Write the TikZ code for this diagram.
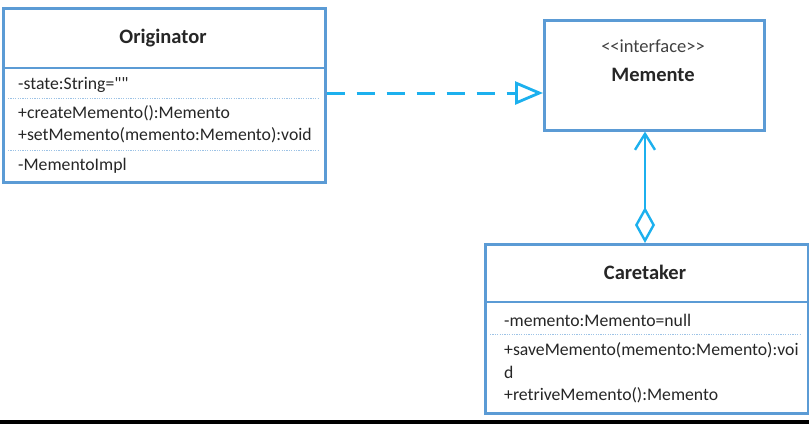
\documentclass[tikz,border=0pt]{standalone}
\usepackage{fontspec}
\setmainfont{Carlito}[Ligatures=TeXOff]
\usetikzlibrary{arrows.meta}
\definecolor{boxblue}{HTML}{5B9BD5}
\definecolor{linkblue}{HTML}{1CB0EE}
\definecolor{dotblue}{HTML}{9DC3E6}
\tikzset{
  x=1pt, y=-1pt,
  classbox/.style={draw=boxblue, line width=2.6pt, fill=white},
  divider/.style={draw=boxblue, line width=2.2pt},
  dotdiv/.style={draw=dotblue, line width=1pt, dash pattern=on 1.2pt off 1.2pt},
  member/.style={anchor=west, inner sep=0pt, font=\fontsize{17.7}{20}\selectfont, text=black!85},
  title/.style={inner sep=0pt, font=\bfseries\fontsize{20.5}{24}\selectfont, text=black!85},
  stereo/.style={inner sep=0pt, font=\fontsize{18.5}{21}\selectfont, text=black!75},
  link/.style={draw=linkblue, line width=2.8pt},
}
\begin{document}
\begin{tikzpicture}
\useasboundingbox (0,0) rectangle (809,424);
\fill[white] (0,0) rectangle (809,424);
\fill[black] (0,420) rectangle (809,424);

% Originator
\node[classbox, minimum width=322pt, minimum height=174pt, anchor=north west] (orig) at (2,7) {};
\draw[divider] (2,68) -- (324,68);
\draw[dotdiv] (8,98) -- (318,98);
\draw[dotdiv] (8,150) -- (318,150);
\node[title] (origT) at (163,38) {Originator};
\node[member] (o1) at (18,85) {-state:String=""};
\node[member] (o2) at (18,113) {+createMemento():Memento};
\node[member] (o3) at (18,135) {+setMemento(memento:Memento):void};
\node[member] (o4) at (18,166) {-MementoImpl};

% Memente
\node[classbox, minimum width=220pt, minimum height=110pt, anchor=north west] (mem) at (543,19) {};
\node[stereo] (memS) at (653,46) {<<interface>>};
\node[title] (memT) at (653,75) {Memente};

% Caretaker
\node[classbox, minimum width=323pt, minimum height=169pt, anchor=north west] (care) at (484,243) {};
\draw[divider] (484,302) -- (807,302);
\draw[dotdiv] (490,334) -- (801,334);
\node[title] (careT) at (645,272) {Caretaker};
\node[member] (c1) at (504,320) {-memento:Memento=null};
\node[member] (c2) at (504,350) {+saveMemento(memento:Memento):voi};
\node[member] (c3) at (504,372) {d};
\node[member] (c4) at (504,395) {+retriveMemento():Memento};

% connectors
\coordinate (dashA) at (orig.east |- 0,93);
\coordinate (dashB) at (mem.west |- 0,93);
\draw[link, line width=3pt, dash pattern=on 18pt off 12pt, -{Triangle[open, length=28pt, width=23pt, line width=2.8pt]}] (dashA) -- (dashB);
\coordinate (vA) at (care.north -| 645,0);
\coordinate (vB) at (mem.south -| 645,0);
\draw[link, line width=2.4pt, {Diamond[open, length=36pt, width=20pt, line width=2.4pt]}-{Straight Barb[length=16pt, width=20pt, line width=2.4pt]}] (vA) -- (vB);
\end{tikzpicture}
\end{document}
